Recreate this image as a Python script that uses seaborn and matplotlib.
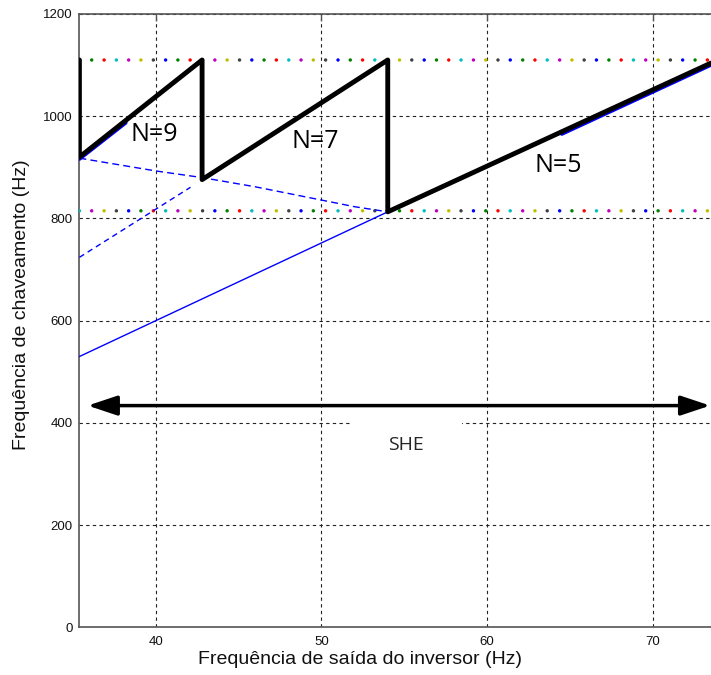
import matplotlib
matplotlib.use("Agg")
import matplotlib.pyplot as plt
from matplotlib.patches import Rectangle
import seaborn as sns
import pandas as pd

# ---------------- data ----------------
# thick black sawtooth: switching frequency actually used (N = 9, 7, 5)
saw_freq = [35.4, 35.4, 42.8, 42.8, 54.0, 54.0, 73.5]
saw_fsw = [1110, 920, 1110, 876, 1110, 813, 1104]

# blue traces peeking out underneath the black (N=9 and N=5 segments)
n9_freq = [35.4, 38.2]
n9_fsw = [916, 987]
n5_freq = [64.5, 73.5]
n5_fsw = [965, 1100]

# blue extension of N=7 (dashed) and N=5 (solid) below the sawtooth
n7_ext_freq = [35.4, 42.1]
n7_ext_fsw = [724, 861]
n5_ext_freq = [35.4, 54.0]
n5_ext_fsw = [530, 813]

# descending dashed blue boundary
bound_freq = [35.4, 40.0, 42.8, 46.0, 50.0, 52.0, 54.0]
bound_fsw = [918, 893, 880, 862, 836, 823, 813]

# dotted limit lines (upper / lower switching-frequency limits)
upper_limit = 1110
lower_limit = 815
dot_freq = [35.40, 36.14, 36.89, 37.63, 38.37, 39.11, 39.86, 40.60, 41.34, 42.08,
            42.83, 43.57, 44.31, 45.06, 45.80, 46.54, 47.28, 48.03, 48.77, 49.51,
            50.25, 51.00, 51.74, 52.48, 53.22, 53.97, 54.71, 55.45, 56.20, 56.94,
            57.68, 58.42, 59.17, 59.91, 60.65, 61.39, 62.14, 62.88, 63.62, 64.37,
            65.11, 65.85, 66.59, 67.34, 68.08, 68.82, 69.56, 70.31, 71.05, 71.79,
            72.54, 73.28]
dot_colors = ["b", "g", "r", "c", "m", "y", "k"]
upper_start = 0
lower_start = 3

labels_text = ["N=9", "N=7", "N=5"]
labels_freq = [39.9, 49.6, 64.3]
labels_fsw = [964, 950, 904]

she_arrow_fsw = 434
she_arrow_from = 35.9
she_arrow_to = 73.45
she_text_freq = 55.1
she_text_fsw = 356

xticks = [40, 50, 60, 70]
yticks = [0, 200, 400, 600, 800, 1000, 1200]
xlabel = "Frequência de saída do inversor (Hz)"
ylabel = "Frequência de chaveamento (Hz)"

# ---------------- style ----------------
sns.set_style("white")
plt.rcParams["font.family"] = ["Liberation Sans", "DejaVu Sans"]

matlab = {"b": (0, 0, 1), "g": (0, 0.5, 0), "r": (1, 0, 0), "c": (0, 0.75, 0.75),
          "m": (0.75, 0, 0.75), "y": (0.75, 0.75, 0), "k": (0.25, 0.25, 0.25)}

fig = plt.figure(figsize=(7.11, 6.75), dpi=100)
ax = fig.add_axes([0.1117, 0.0704, 0.8883, 0.9089])
ax.set_axisbelow(True)

# grid
ax.grid(True, color="#222222", linestyle=(0, (3, 3)), linewidth=0.8)

# dotted coloured limit lines
rows = []
for lvl, start in [(upper_limit, upper_start), (lower_limit, lower_start)]:
    for i, f in enumerate(dot_freq):
        rows.append({"f": f, "fsw": lvl, "c": dot_colors[(i + start) % 7]})
dots = pd.DataFrame(rows)
sns.scatterplot(data=dots, x="f", y="fsw", hue="c", palette=matlab, s=6,
                linewidth=0, legend=False, ax=ax, zorder=3)

blue = "#0000ff"
sns.lineplot(x=n7_ext_freq, y=n7_ext_fsw, color=blue, lw=1.0,
             linestyle=(0, (4, 3)), ax=ax, sort=False, estimator=None, zorder=4)
sns.lineplot(x=n5_ext_freq, y=n5_ext_fsw, color=blue, lw=1.0,
             ax=ax, sort=False, estimator=None, zorder=4)
sns.lineplot(x=bound_freq, y=bound_fsw, color=blue, lw=1.0,
             linestyle=(0, (5, 3)), ax=ax, sort=False, estimator=None, zorder=4)
sns.lineplot(x=n9_freq, y=n9_fsw, color=blue, lw=2.5,
             ax=ax, sort=False, estimator=None, zorder=4)
sns.lineplot(x=n5_freq, y=n5_fsw, color=blue, lw=2.5,
             ax=ax, sort=False, estimator=None, zorder=4)
sns.lineplot(x=saw_freq, y=saw_fsw, color="black", lw=3.5,
             ax=ax, sort=False, estimator=None, zorder=5)

# N labels
for t, fx, fy in zip(labels_text, labels_freq, labels_fsw):
    ax.text(fx, fy, t, fontsize=18, family=["Open Sans", "DejaVu Sans"],
            ha="center", va="center", color="black", zorder=6)

# SHE arrow and label
ax.add_patch(Rectangle((51.7, 370), 6.8, 45, facecolor="white",
                       edgecolor="none", zorder=1.5))
ax.annotate("", xy=(she_arrow_to, she_arrow_fsw), xytext=(she_arrow_from, she_arrow_fsw),
            arrowprops=dict(arrowstyle="<|-|>,head_length=0.9,head_width=0.3",
                            color="black", lw=2.5, mutation_scale=20,
                            shrinkA=0, shrinkB=0),
            annotation_clip=False, zorder=6)
ax.text(she_text_freq, she_text_fsw, "SHE", fontsize=14,
        family=["Open Sans", "DejaVu Sans"], ha="center", va="center", zorder=6)

# axes
ax.set_xlim(35.4, 73.5)
ax.set_ylim(0, 1200)
ax.set_xticks(xticks)
ax.set_yticks(yticks)
ax.set_xticklabels([str(v) for v in xticks], family=["Liberation Sans Narrow", "Liberation Sans"], fontsize=9.5)
ax.set_yticklabels([str(v) for v in yticks], family=["Liberation Sans Narrow", "Liberation Sans"], fontsize=9.5)
ax.tick_params(axis="both", direction="in", length=5, width=1, color="#555555",
               top=True, right=False, labelcolor="#111111")
ax.tick_params(axis="x", pad=6)
ax.tick_params(axis="y", pad=5)
for s in ["left", "bottom", "top"]:
    ax.spines[s].set_color("#555555")
    ax.spines[s].set_linewidth(1.2)
    ax.spines[s].set_visible(True)
ax.spines["right"].set_visible(False)
ax.set_xlabel("")
ax.set_ylabel("")

fig.text(360 / 711, 1 - 659.7 / 675, xlabel, fontsize=14, ha="center", va="center",
         color="#111111")
fig.text(22 / 711, 1 - 305 / 675, ylabel, fontsize=14, ha="center", va="center",
         rotation=90, color="#111111")

fig.savefig("out.png", dpi=100)
